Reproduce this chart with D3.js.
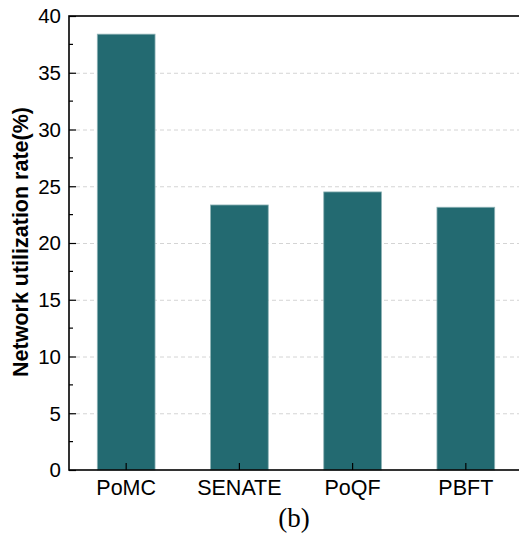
<!DOCTYPE html>
<html lang="en">
<head>
    <meta charset="UTF-8">
    <title>Network utilization rate</title>
    <script src="https://d3js.org/d3.v7.min.js"></script>
    <style>
        body { margin: 0; background: #fff; }
        text { font-family: Arial, "Liberation Sans", sans-serif; }
    </style>
</head>
<body>
    <div id="chart"></div>

    <script>
    // data
    let methods = ["PoMC", "SENATE", "PoQF", "PBFT"]
    let rates = [38.4, 23.35, 24.5, 23.15]
    let yTicks = [0, 5, 10, 15, 20, 25, 30, 35, 40]

    let width = 519,
        height = 538

    // plot frame (right edge is cut off by the window)
    let plotLeft = 69, plotRight = 523, plotTop = 16, plotBottom = 470

    let svg = d3.select("#chart")
        .append("svg")
        .attr("width", width)
        .attr("height", height)

    let x = d3.scaleBand()
        .domain(methods)
        .range([plotLeft, plotRight])
        .paddingInner(0.49)
        .paddingOuter(0.25)

    let y = d3.scaleLinear()
        .domain([0, 40])
        .range([plotBottom, plotTop])

    // dashed grid lines on the major ticks
    svg.append("g")
        .selectAll("line")
        .data(yTicks.filter(d => d > 0 && d < 40))
        .enter()
        .append("line")
        .attr("x1", plotLeft)
        .attr("x2", plotRight)
        .attr("y1", d => y(d) + 0.5)
        .attr("y2", d => y(d) + 0.5)
        .attr("stroke", "#d4d4d4")
        .attr("stroke-width", 1)
        .attr("stroke-dasharray", "4,3")

    // bars
    svg.append("g")
        .selectAll("rect")
        .data(methods)
        .enter()
        .append("rect")
        .attr("x", d => x(d))
        .attr("width", x.bandwidth())
        .attr("y", (d, i) => y(rates[i]))
        .attr("height", (d, i) => y(0) - y(rates[i]))
        .attr("fill", "#236a71")
        .attr("stroke", "#8fb3b6")
        .attr("stroke-width", 0.8)

    // left axis, ticks pointing inward
    let yAxis = d3.axisRight(y)
        .tickValues(yTicks)
        .tickSize(7)
        .tickFormat("")
    let gy = svg.append("g")
        .attr("transform", "translate(" + plotLeft + ",0)")
        .call(yAxis)
    gy.select(".domain").remove()
    gy.selectAll("line").attr("stroke", "#000").attr("stroke-width", 1.2)

    // minor ticks between majors
    let minor = yTicks.slice(0, -1).map(d => d + 2.5)
    svg.append("g")
        .selectAll("line")
        .data(minor)
        .enter()
        .append("line")
        .attr("x1", plotLeft)
        .attr("x2", plotLeft + 4)
        .attr("y1", d => y(d))
        .attr("y2", d => y(d))
        .attr("stroke", "#000")
        .attr("stroke-width", 1.2)

    // y tick labels
    svg.append("g")
        .selectAll("text")
        .data(yTicks)
        .enter()
        .append("text")
        .attr("x", plotLeft - 8)
        .attr("y", d => y(d))
        .attr("dy", "0.36em")
        .attr("text-anchor", "end")
        .style("font-size", "20.5px")
        .text(d => d)

    // bottom axis, ticks pointing up
    let xAxis = d3.axisTop(x)
        .tickSize(7)
        .tickFormat("")
    let gx = svg.append("g")
        .attr("transform", "translate(0," + plotBottom + ")")
        .call(xAxis)
    gx.select(".domain").remove()
    gx.selectAll("line").attr("stroke", "#000").attr("stroke-width", 1.2)

    svg.append("g")
        .selectAll("text")
        .data(methods)
        .enter()
        .append("text")
        .attr("x", d => x(d) + x.bandwidth() / 2)
        .attr("y", 495)
        .attr("text-anchor", "middle")
        .style("font-size", "21.5px")
        .text(d => d)

    // frame
    svg.append("rect")
        .attr("x", plotLeft)
        .attr("y", plotTop)
        .attr("width", plotRight - plotLeft)
        .attr("height", plotBottom - plotTop)
        .attr("fill", "none")
        .attr("stroke", "#000")
        .attr("stroke-width", 1.6)

    // axis title
    svg.append("text")
        .attr("transform", "translate(28,242) rotate(-90)")
        .attr("text-anchor", "middle")
        .style("font-size", "21.5px")
        .style("font-weight", "bold")
        .text("Network utilization rate(%)")

    // caption
    svg.append("text")
        .attr("x", 294)
        .attr("y", 527)
        .attr("text-anchor", "middle")
        .style("font-family", "'Times New Roman', 'Liberation Serif', serif")
        .style("font-size", "27px")
        .text("(b)")
    </script>
</body>
</html>
